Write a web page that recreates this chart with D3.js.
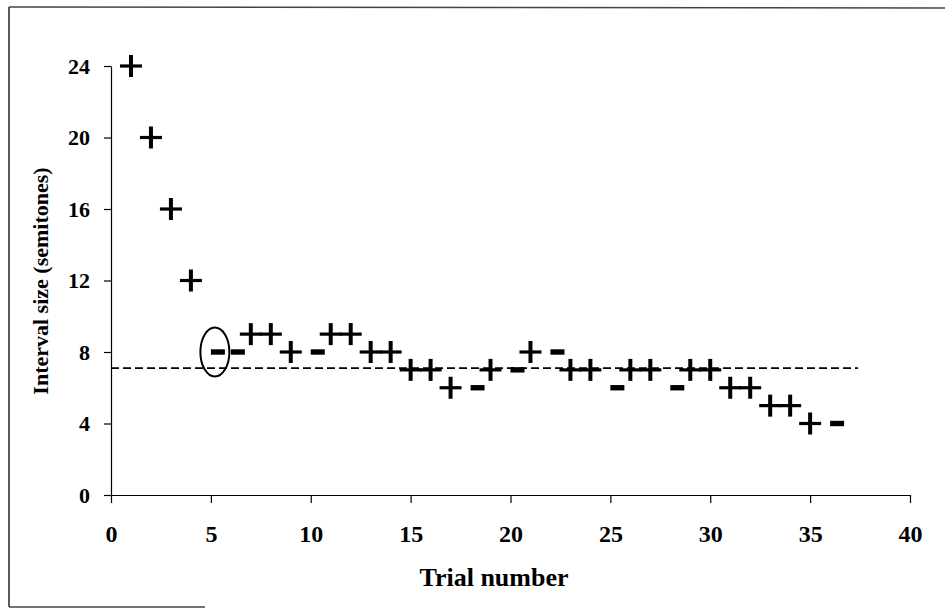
<!DOCTYPE html>
<html>
<head>
<meta charset="utf-8">
<script src="https://cdn.jsdelivr.net/npm/d3@7"></script>
<style>
    body { margin: 0; background: #fff; }
    svg { display: block; }
    .axis text { font-family: "Liberation Serif", "Times New Roman", serif; font-weight: bold; fill: #000; }
    .axis path, .axis line { stroke: #000; stroke-width: 1.2; }
    .axis-label { font-family: "Liberation Serif", "Times New Roman", serif; font-weight: bold; fill: #000; }
</style>
</head>
<body>
<div id="chart"></div>
<script>
const width = 945, height = 610;
const margin = { top: 66, bottom: 115, left: 111, right: 35 };

// data
const trials = [1, 2, 3, 4, 5, 6, 7, 8, 9, 10, 11, 12, 13, 14, 15, 16, 17, 18,
                19, 20, 21, 22, 23, 24, 25, 26, 27, 28, 29, 30, 31, 32, 33, 34, 35, 36];
const intervals = [24, 20, 16, 12, 8, 8, 9, 9, 8, 8, 9, 9, 8, 8, 7, 7, 6, 6,
                   7, 7, 8, 8, 7, 7, 6, 7, 7, 6, 7, 7, 6, 6, 5, 5, 4, 4];
const responses = ['+', '+', '+', '+', '-', '-', '+', '+', '+', '-', '+', '+', '+', '+', '+', '+', '+', '-',
                   '+', '-', '+', '-', '+', '+', '-', '+', '+', '-', '+', '+', '+', '+', '+', '+', '+', '-'];
const xTicks = [0, 5, 10, 15, 20, 25, 30, 35, 40];
const yTicks = [0, 4, 8, 12, 16, 20, 24];
const threshold = 7.1;
const thresholdRange = [0, 37.4];
const circledTrial = 5;

const xScale = d3.scaleLinear().domain([0, 40]).range([margin.left, width - margin.right]);
const yScale = d3.scaleLinear().domain([0, 24]).range([height - margin.bottom, margin.top]);

const svg = d3.select('#chart').append('svg')
    .attr('width', width)
    .attr('height', height);

// scanned page frame
svg.append('line').attr('x1', 9).attr('y1', 7).attr('x2', 9).attr('y2', 607)
    .attr('stroke', '#222').attr('stroke-width', 1.5);
svg.append('line').attr('x1', 9).attr('y1', 7).attr('x2', 945).attr('y2', 8)
    .attr('stroke', '#444').attr('stroke-width', 1.5);
svg.append('line').attr('x1', 9).attr('y1', 607).attr('x2', 205).attr('y2', 607)
    .attr('stroke', '#444').attr('stroke-width', 1.5);

// axes
svg.append('g')
    .attr('class', 'x axis')
    .attr('transform', 'translate(0,' + yScale(0) + ')')
    .call(d3.axisBottom(xScale).tickValues(xTicks).tickSizeInner(8).tickSizeOuter(0).tickPadding(22))
    .selectAll('text').style('font-size', '24px');

svg.append('g')
    .attr('class', 'y axis')
    .attr('transform', 'translate(' + xScale(0) + ',0)')
    .call(d3.axisLeft(yScale).tickValues(yTicks).tickSizeInner(7).tickSizeOuter(0).tickPadding(14))
    .selectAll('text').style('font-size', '22px');

// threshold line
svg.append('line')
    .attr('x1', xScale(thresholdRange[0])).attr('x2', xScale(thresholdRange[1]))
    .attr('y1', yScale(threshold)).attr('y2', yScale(threshold))
    .attr('stroke', '#000').attr('stroke-width', 1.6)
    .attr('stroke-dasharray', '8,4');

const points = trials.map((t, i) => ({ t: t, v: intervals[i], r: responses[i] }));

const marks = svg.append('g');

const plus = marks.selectAll('.plus').data(points.filter(d => d.r === '+')).enter()
    .append('g').attr('class', 'plus')
    .attr('transform', d => 'translate(' + xScale(d.t) + ',' + yScale(d.v) + ')');
plus.append('rect').attr('x', -11).attr('y', -1.6).attr('width', 22).attr('height', 3.2).attr('fill', '#000');
plus.append('rect').attr('x', -2).attr('y', -11).attr('width', 4).attr('height', 22).attr('fill', '#000');

marks.selectAll('.minus').data(points.filter(d => d.r === '-')).enter()
    .append('rect').attr('class', 'minus')
    .attr('x', d => xScale(d.t))
    .attr('y', d => yScale(d.v) - 2.7)
    .attr('width', 14).attr('height', 5.4)
    .attr('fill', '#000');

// circled first reversal
const circled = points.find(d => d.t === circledTrial);
svg.append('ellipse')
    .attr('cx', xScale(circled.t) + 4)
    .attr('cy', yScale(circled.v))
    .attr('rx', 14.5).attr('ry', 24.5)
    .attr('fill', 'none').attr('stroke', '#000').attr('stroke-width', 2);

// axis titles
svg.append('text').attr('class', 'axis-label')
    .attr('x', 494).attr('y', 586)
    .attr('text-anchor', 'middle')
    .style('font-size', '26px')
    .text('Trial number');

svg.append('text').attr('class', 'axis-label')
    .attr('transform', 'translate(48,281) rotate(-90)')
    .attr('text-anchor', 'middle')
    .style('font-size', '22px')
    .text('Interval size (semitones)');
</script>
</body>
</html>
